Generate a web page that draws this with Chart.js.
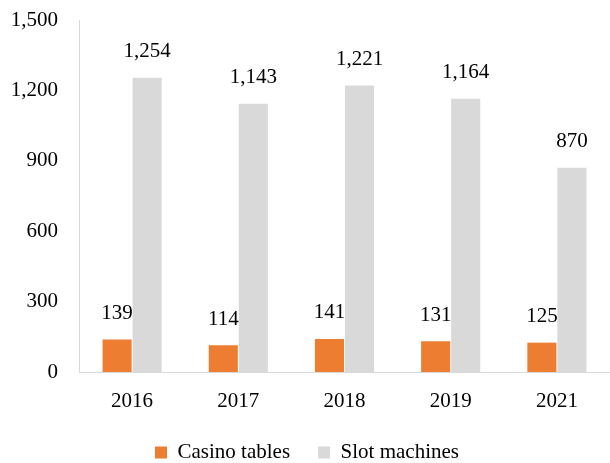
<!DOCTYPE html>
<html>
<head>
<meta charset="utf-8">
<script src="https://cdn.jsdelivr.net/npm/chart.js@4"></script>
<style>
  html, body { margin: 0; padding: 0; background: #fff; }
  #wrap { width: 610px; height: 463px; }
</style>
</head>
<body>
<div id="wrap"><canvas id="myChart"></canvas></div>
<script>
// values
const years = ['2016', '2017', '2018', '2019', '2021'];
const casinoTables = [139, 114, 141, 131, 125];
const slotMachines = [1254, 1143, 1221, 1164, 870];
const yTicks = [0, 300, 600, 900, 1200, 1500];

const fmt = v => v.toLocaleString('en-US');
const serif = '"Liberation Serif", serif';

// draws the number above each bar
const barLabels = {
  id: 'barLabels',
  afterDatasetsDraw(chart) {
    const ctx = chart.ctx;
    ctx.save();
    ctx.font = '21px ' + serif;
    ctx.fillStyle = '#000';
    ctx.textAlign = 'center';
    ctx.textBaseline = 'middle';
    chart.data.datasets.forEach((ds, i) => {
      chart.getDatasetMeta(i).data.forEach((bar, j) => {
        ctx.fillText(fmt(ds.data[j]), bar.x, bar.y - 26);
      });
    });
    ctx.restore();
  }
};

const ctx = document.getElementById('myChart');

new Chart(ctx, {
  type: 'bar',
  data: {
    labels: years,
    datasets: [
      {
        label: 'Casino tables',
        data: casinoTables,
        backgroundColor: '#ED7D31'
      },
      {
        label: 'Slot machines',
        data: slotMachines,
        backgroundColor: '#D9D9D9'
      }
    ]
  },
  options: {
    responsive: true,
    maintainAspectRatio: false,
    animation: false,
    layout: { padding: { top: 20, right: -4, left: 0, bottom: -10 } },
    datasets: {
      bar: { categoryPercentage: 0.565, barPercentage: 0.97 }
    },
    plugins: {
      tooltip: { enabled: false },
      legend: {
        position: 'bottom',
        labels: {
          boxWidth: 12,
          boxHeight: 12,
          padding: 28,
          color: '#000',
          font: { family: serif, size: 21 }
        }
      }
    },
    scales: {
      x: {
        afterFit: axis => { axis.height = 42; },
        grid: { display: false, drawTicks: false },
        border: { display: true, color: '#D9D9D9' },
        ticks: {
          color: '#000',
          padding: 17,
          font: { family: serif, size: 21 }
        }
      },
      y: {
        min: 0,
        max: 1500,
        afterBuildTicks: axis => { axis.ticks = yTicks.map(v => ({ value: v })); },
        afterFit: axis => {
          axis.width = 79;
          axis.paddingTop = 0;
          axis.paddingBottom = 0;
        },
        grid: { display: false, drawTicks: false },
        border: { display: true, color: '#D9D9D9' },
        ticks: {
          color: '#000',
          padding: 21,
          callback: v => fmt(v),
          font: { family: serif, size: 21 }
        }
      }
    }
  },
  plugins: [barLabels]
});
</script>
</body>
</html>
